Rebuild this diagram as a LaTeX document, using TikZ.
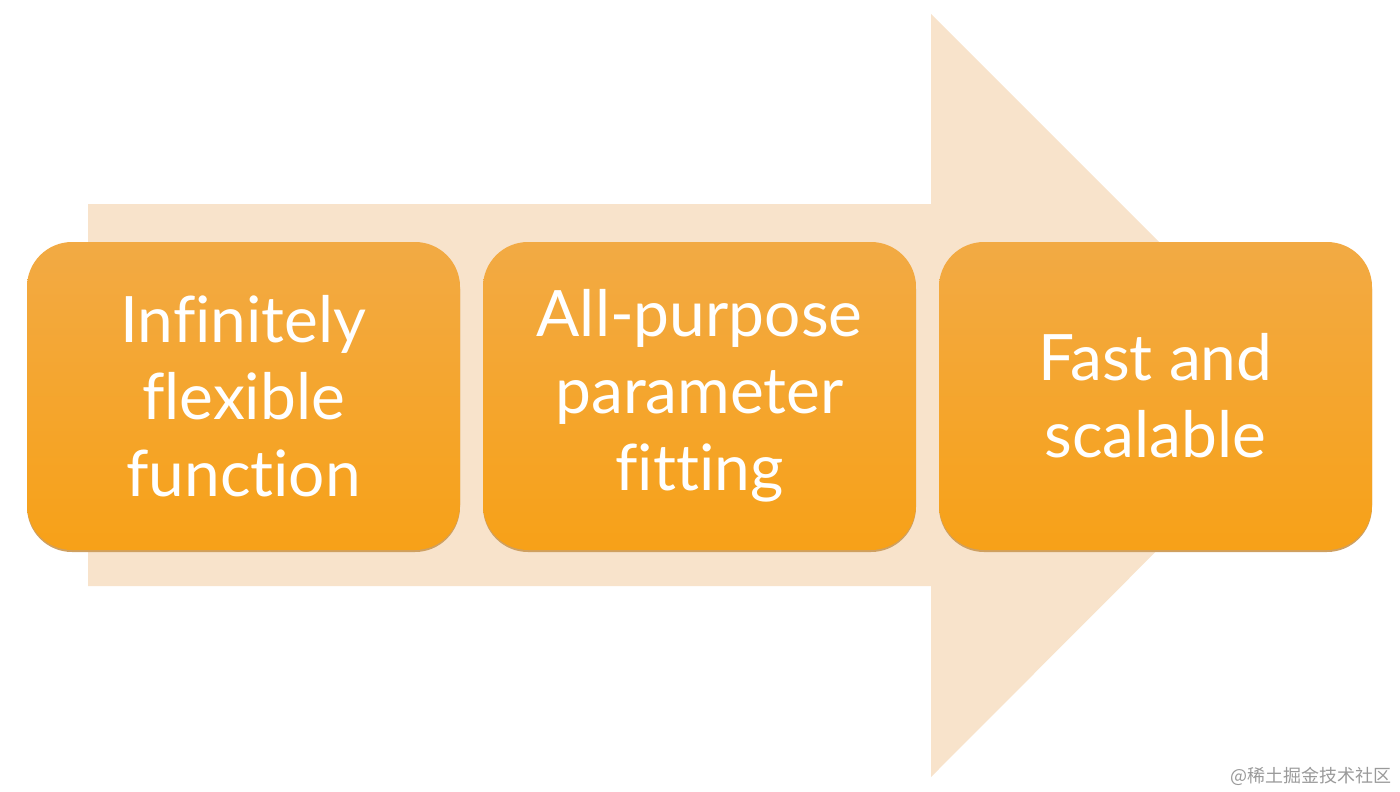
\documentclass[tikz,border=0pt]{standalone}
\usepackage{fontspec}
\setmainfont[Ligatures={NoCommon}]{Lato}
\newfontfamily\cjk{Noto Sans CJK SC}
\definecolor{arrowc}{HTML}{F8E3CB}
\definecolor{boxtop}{HTML}{F2AA44}
\definecolor{boxbot}{HTML}{F7A118}
\definecolor{shadowc}{HTML}{CFA060}
\definecolor{wmark}{HTML}{9A9A9A}
\tikzset{
  stagebox/.style={rectangle, rounded corners=45pt, minimum width=433pt, minimum height=308pt,
    top color=boxtop, bottom color=boxbot, draw=none, text=white, align=center,
    font=\fontsize{64}{77}\selectfont,
    preaction={fill=shadowc, transform canvas={yshift=-2pt}}},
}
\begin{document}
\begin{tikzpicture}[x=1pt,y=-1pt]
\useasboundingbox (0,0) rectangle (1400,792);
\fill[arrowc] (88,204) -- (931,204) -- (931,14) -- (1312,395) -- (931,777) -- (931,586) -- (88,586) -- cycle;
\node[stagebox] (b1) at (243.5,396) {Infinitely\\flexible\\function};
\node[stagebox] (b2) at (699.5,396) {All-purpose\\parameter\\fitting};
\node[stagebox] (b3) at (1155.5,396) {Fast and\\scalable};
\node[anchor=east, text=wmark, font=\cjk\fontsize{18}{20}\selectfont] (wm) at (1395,776) {@稀土掘金技术社区};
\end{tikzpicture}
\end{document}
